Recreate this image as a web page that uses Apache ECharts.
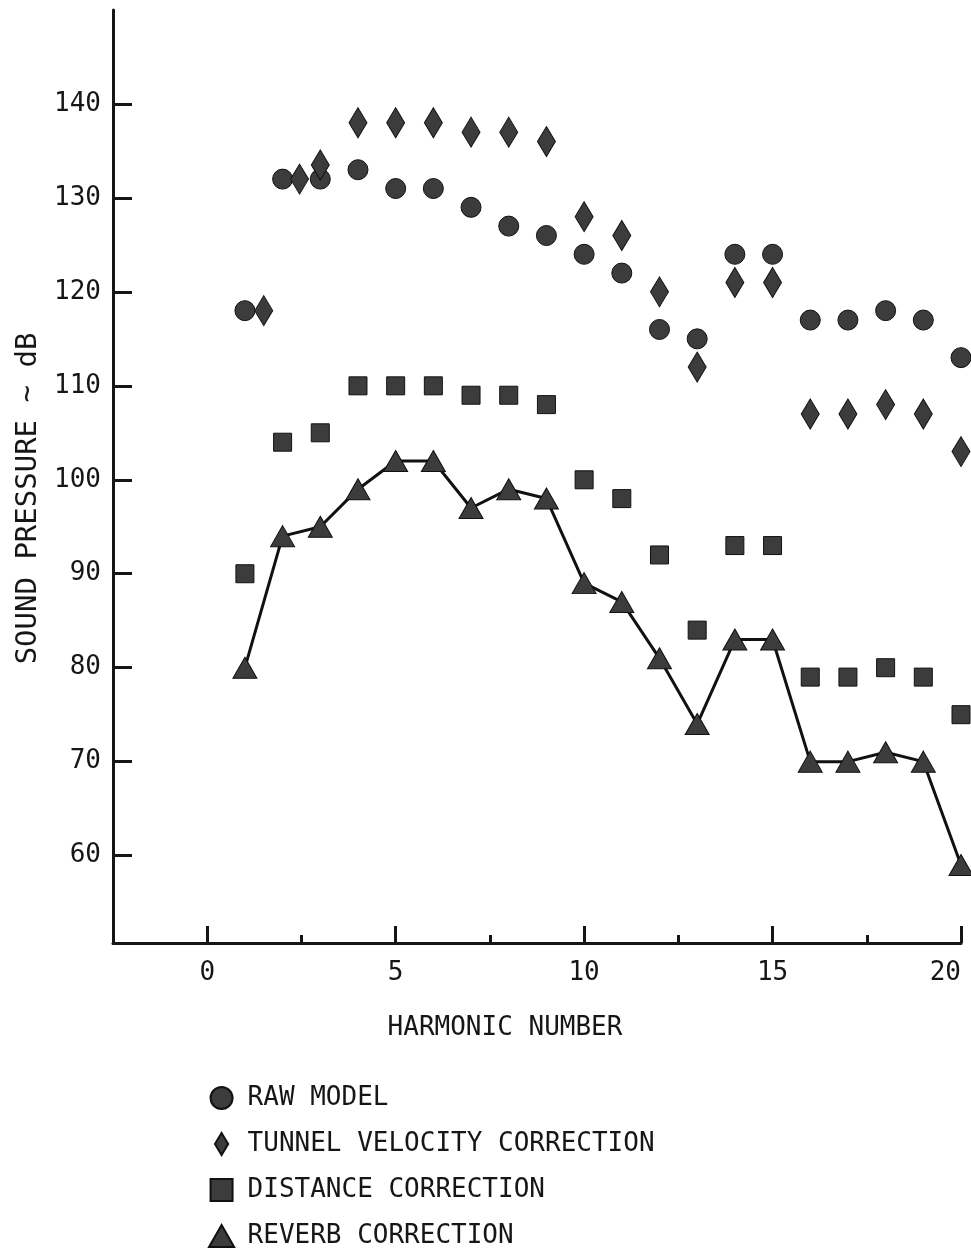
<!DOCTYPE html>
<html>
<head>
<meta charset="utf-8">
<title>Sound pressure vs harmonic number</title>
<script src="https://cdn.jsdelivr.net/npm/echarts@6.0.0/dist/echarts.min.js"></script>
<style>
  html, body { margin: 0; padding: 0; background: #fff; }
  #chart { width: 971px; height: 1252px; }
</style>
</head>
<body>
<div id="chart"></div>
<script>
// harmonic numbers 1..20
var harmonic = [1, 2, 3, 4, 5, 6, 7, 8, 9, 10, 11, 12, 13, 14, 15, 16, 17, 18, 19, 20];
var rawModel = [118, 132, 132, 133, 131, 131, 129, 127, 126, 124, 122, 116, 115, 124, 124, 117, 117, 118, 117, 113];
// the first two diamonds were drawn a bit to the right of their harmonic in the original
var tunnelX = [1.5, 2.45, 3, 4, 5, 6, 7, 8, 9, 10, 11, 12, 13, 14, 15, 16, 17, 18, 19, 20];
var tunnelVel = [118, 132, 133.5, 138, 138, 138, 137, 137, 136, 128, 126, 120, 112, 121, 121, 107, 107, 108, 107, 103];
var distance = [90, 104, 105, 110, 110, 110, 109, 109, 108, 100, 98, 92, 84, 93, 93, 79, 79, 80, 79, 75];
var reverb = [80, 94, 95, 99, 102, 102, 97, 99, 98, 89, 87, 81, 74, 83, 83, 70, 70, 71, 70, 59];

var xMajorTicks = [0, 5, 10, 15, 20];
var xMinorTicks = [2.5, 7.5, 12.5, 17.5];
var yTicks = [60, 70, 80, 90, 100, 110, 120, 130, 140];

function pairs(xs, ys) {
  return xs.map(function (x, i) { return [x, ys[i]]; });
}

var font = '"DejaVu Sans Mono", "Liberation Mono", monospace';
var ink = '#161616';
var markFill = '#3c3c3c';
var markItem = { color: markFill, borderColor: '#111', borderWidth: 1, opacity: 1 };

var chart = echarts.init(document.getElementById('chart'), null, { renderer: 'canvas' });

var option = {
  backgroundColor: '#ffffff',
  animation: false,
  textStyle: { fontFamily: font, color: ink },
  grid: { left: 113, right: 10, top: 10, bottom: 309, outerBoundsMode: 'none', containLabel: false },
  xAxis: [
    {
      type: 'value',
      min: -2.5,
      max: 20,
      position: 'bottom',
      name: 'HARMONIC NUMBER',
      nameLocation: 'middle',
      nameGap: 72,
      nameTextStyle: { fontFamily: font, fontSize: 26, color: ink, padding: [0, 64, 0, 0] },
      axisLine: { show: true, onZero: false, lineStyle: { color: ink, width: 3 } },
      axisTick: { show: true, inside: true, length: 17, customValues: xMajorTicks, lineStyle: { color: ink, width: 3 } },
      axisLabel: { show: true, customValues: xMajorTicks, margin: 17, alignMaxLabel: 'right', fontFamily: font, fontSize: 26, color: ink },
      splitLine: { show: false }
    },
    {
      // short ticks between the labelled ones
      type: 'value',
      min: -2.5,
      max: 20,
      position: 'bottom',
      axisLine: { show: false },
      axisTick: { show: true, inside: true, length: 8, customValues: xMinorTicks, lineStyle: { color: ink, width: 3 } },
      axisLabel: { show: false },
      splitLine: { show: false }
    }
  ],
  yAxis: {
    type: 'value',
    min: 50.7,
    max: 150,
    name: 'SOUND PRESSURE ~ dB',
    nameLocation: 'middle',
    nameRotate: 90,
    nameGap: 70,
    nameTextStyle: { fontFamily: font, fontSize: 29, color: ink, padding: [0, 44, 0, 0] },
    axisLine: { show: true, onZero: false, lineStyle: { color: ink, width: 3 } },
    axisTick: { show: true, inside: true, length: 19, customValues: yTicks, lineStyle: { color: ink, width: 3 } },
    axisLabel: { show: true, customValues: yTicks, margin: 12, fontFamily: font, fontSize: 26, color: ink },
    splitLine: { show: false }
  },
  legend: {
    orient: 'vertical',
    left: 208,
    top: 1085,
    padding: 0,
    itemWidth: 28,
    itemHeight: 22,
    itemGap: 20,
    textStyle: { fontFamily: font, fontSize: 26, color: ink, padding: [0, 0, 0, 7] },
    data: [
      { name: 'RAW MODEL', icon: 'circle' },
      { name: 'TUNNEL VELOCITY CORRECTION', icon: 'path://M9,0L18,15L9,30L0,15Z' },
      { name: 'DISTANCE CORRECTION', icon: 'path://M0,0L18,0L18,18L0,18Z' },
      { name: 'REVERB CORRECTION', icon: 'path://M12,0L24,21L0,21Z' }
    ]
  },
  series: [
    {
      name: 'REVERB CORRECTION',
      type: 'line',
      data: pairs(harmonic, reverb),
      symbol: 'triangle',
      symbolSize: [24, 21],
      showAllSymbol: true,
      lineStyle: { color: '#111', width: 3 },
      itemStyle: markItem,
      z: 3
    },
    {
      name: 'DISTANCE CORRECTION',
      type: 'scatter',
      data: pairs(harmonic, distance),
      symbol: 'rect',
      symbolSize: [18, 18],
      itemStyle: markItem,
      z: 4
    },
    {
      name: 'RAW MODEL',
      type: 'scatter',
      data: pairs(harmonic, rawModel),
      symbol: 'circle',
      symbolSize: 20,
      itemStyle: markItem,
      z: 4
    },
    {
      name: 'TUNNEL VELOCITY CORRECTION',
      type: 'scatter',
      data: pairs(tunnelX, tunnelVel),
      symbol: 'diamond',
      symbolSize: [18, 30],
      itemStyle: markItem,
      z: 5
    }
  ]
};

chart.setOption(option);
</script>
</body>
</html>
